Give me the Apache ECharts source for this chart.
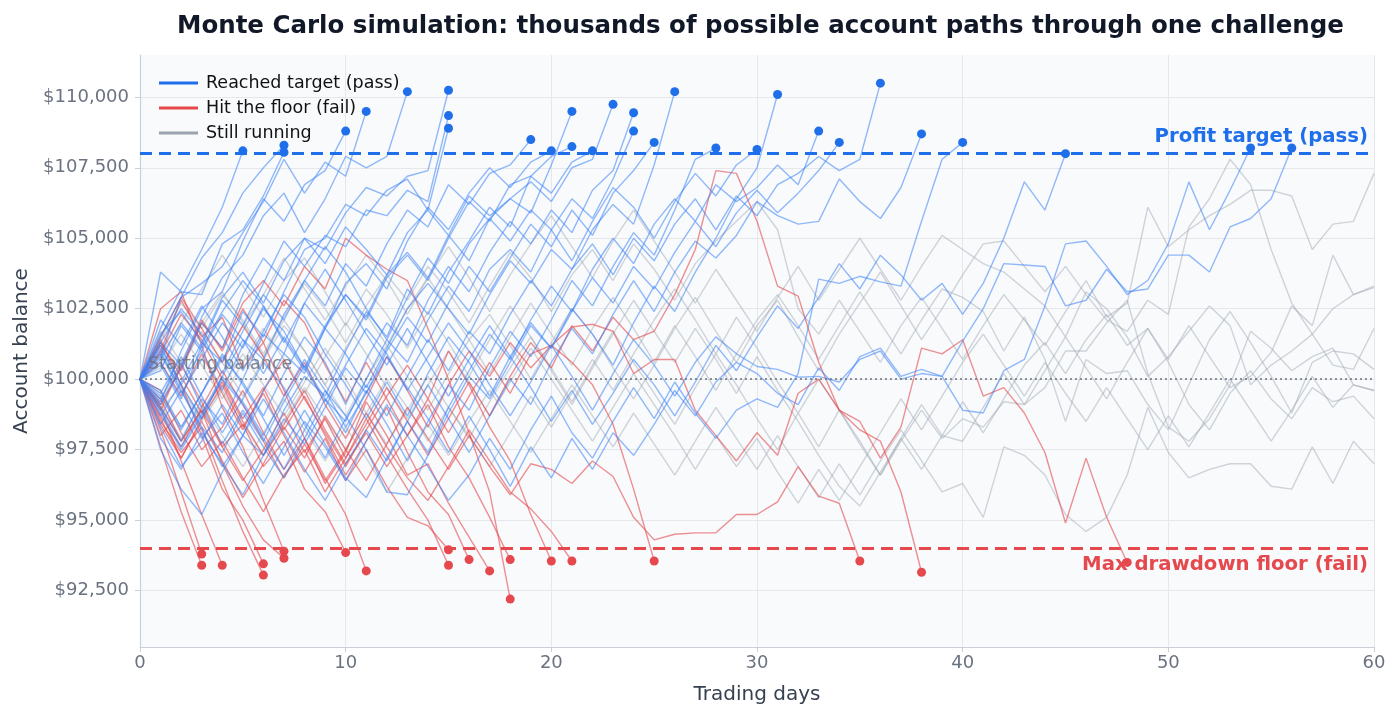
<!DOCTYPE html>
<html>
<head>
<meta charset="utf-8">
<script src="https://cdn.jsdelivr.net/npm/echarts@6/dist/echarts.min.js"></script>
<style>
  html, body { margin: 0; background: #fff; }
  #chart-div { width: 1400px; height: 720px; }
</style>
</head>
<body>
<div id="chart-div"></div>
<script>
// account balance in $ thousands, array index = trading day
const yTicks = [92.5, 95, 97.5, 100, 102.5, 105, 107.5, 110];
const targetLevel = 108;
const floorLevel = 94;
const startLevel = 100;

// paths that reached the profit target
const pass05 = [100, 101.8, 103.2, 104.6, 106.1, 108.1];
const pass07a = [100, 101.5, 102.9, 104.3, 105.2, 106.6, 107.5, 108.3];
const pass07b = [100, 103.8, 103.1, 103.0, 104.8, 105.3, 106.5, 108.05];
const pass10 = [100, 99.2, 101.0, 102.5, 103.1, 104.9, 106.4, 105.6, 106.9, 107.4, 108.8];
const pass11 = [100, 100.8, 102.9, 103.4, 104.0, 105.2, 106.3, 107.8, 106.6, 107.7, 107.2, 109.5];
const pass13 = [100, 101.3, 100.5, 102.2, 103.6, 104.4, 105.8, 106.6, 105.2, 106.4, 107.9, 107.5, 107.9, 110.2];
const pass15a = [100, 99.1, 100.4, 102.0, 101.1, 103.0, 104.3, 103.5, 105.0, 104.6, 105.9, 106.8, 106.5, 107.2, 107.4, 110.25];
const pass15b = [100, 100.6, 99.3, 101.2, 102.8, 101.9, 103.4, 104.9, 104.0, 105.1, 104.7, 106.0, 105.8, 106.7, 106.3, 109.35];
const pass15c = [100, 98.7, 99.9, 101.3, 100.6, 102.4, 101.5, 103.1, 104.6, 105.0, 106.2, 105.8, 106.7, 107.1, 106.0, 108.9];
const pass19 = [100, 101.2, 99.8, 98.6, 100.1, 101.4, 100.7, 102.3, 103.5, 102.6, 104.1, 103.3, 104.8, 106.0, 105.4, 106.9, 106.2, 107.3, 107.6, 108.5];
const pass20 = [100, 99.0, 97.8, 99.3, 98.4, 100.0, 101.6, 100.9, 102.7, 101.8, 103.4, 104.1, 103.2, 104.9, 106.1, 105.3, 106.6, 107.5, 106.8, 107.7, 108.1];
const pass21a = [100, 100.3, 101.9, 101.0, 99.6, 101.2, 102.5, 101.7, 100.4, 101.9, 103.0, 102.2, 103.7, 104.5, 103.6, 105.1, 104.2, 105.7, 106.4, 105.9, 107.6, 109.5];
const pass21b = [100, 97.5, 96.1, 95.2, 96.7, 98.0, 97.3, 98.9, 100.1, 99.4, 101.0, 102.4, 101.5, 103.2, 102.3, 103.8, 104.9, 106.1, 105.4, 107.2, 107.9, 108.25];
const pass22 = [100, 98.3, 96.9, 97.8, 99.1, 98.0, 99.6, 100.9, 100.2, 101.8, 103.0, 102.1, 103.6, 104.4, 103.5, 105.0, 106.3, 105.6, 106.9, 107.2, 106.6, 107.7, 108.1];
const pass23 = [100, 101.6, 102.4, 101.3, 102.9, 103.8, 102.7, 104.2, 105.0, 104.1, 105.4, 104.6, 103.7, 105.2, 106.0, 105.1, 106.5, 105.8, 106.4, 107.0, 106.3, 107.5, 107.8, 109.75];
const pass24a = [100, 99.4, 98.2, 99.5, 100.8, 99.9, 98.7, 100.2, 101.5, 100.6, 99.1, 100.7, 102.0, 101.2, 102.8, 104.0, 103.1, 104.5, 105.6, 104.8, 106.0, 105.2, 106.7, 107.4, 109.45];
const pass24b = [100, 101.0, 99.6, 98.3, 97.4, 98.8, 97.6, 96.5, 97.9, 99.3, 98.5, 100.0, 101.4, 100.6, 102.1, 103.3, 102.4, 103.9, 104.6, 103.8, 105.3, 106.4, 105.7, 107.1, 108.8];
const pass25 = [100, 97.9, 96.8, 98.1, 97.0, 95.9, 97.3, 98.6, 97.7, 99.0, 100.4, 99.5, 101.0, 102.2, 101.3, 102.7, 104.0, 103.1, 104.3, 105.5, 104.7, 106.0, 105.1, 106.6, 107.4, 108.4];
const pass26 = [100, 100.9, 99.5, 100.7, 102.0, 101.1, 102.6, 101.4, 100.3, 101.8, 100.9, 99.7, 101.1, 102.5, 103.4, 102.5, 101.6, 103.0, 104.2, 103.4, 104.6, 103.9, 105.3, 106.2, 105.5, 107.6, 110.2];
const pass28 = [100, 99.3, 100.6, 99.0, 97.7, 98.9, 97.8, 99.2, 100.5, 99.3, 98.1, 99.6, 98.4, 97.1, 98.5, 99.8, 98.9, 100.4, 101.7, 100.8, 102.1, 103.5, 102.6, 104.0, 105.2, 104.4, 106.0, 107.8, 108.2];
const pass30 = [100, 101.3, 102.5, 101.6, 100.2, 101.7, 103.0, 102.1, 103.5, 104.7, 103.8, 102.5, 101.4, 102.9, 104.3, 103.4, 104.8, 105.7, 104.9, 106.0, 105.3, 104.2, 105.6, 106.8, 106.1, 105.0, 106.3, 107.3, 106.5, 107.6, 108.15];
const pass31 = [100, 98.8, 97.5, 98.7, 100.0, 99.1, 97.9, 96.8, 98.2, 99.6, 98.7, 97.5, 96.0, 95.9, 97.3, 98.8, 100.1, 99.3, 100.6, 101.9, 101.1, 102.5, 101.6, 100.5, 102.0, 103.3, 102.4, 103.8, 105.0, 106.4, 107.5, 110.1];
const pass33 = [100, 100.5, 99.2, 97.9, 98.8, 97.4, 96.3, 97.6, 98.9, 97.7, 96.5, 95.8, 97.2, 98.5, 97.4, 99.0, 100.3, 101.6, 100.7, 102.1, 103.3, 102.4, 103.9, 105.0, 104.1, 105.5, 106.4, 105.6, 106.9, 106.3, 106.8, 107.6, 106.9, 108.8];
const pass34 = [100, 102.1, 101.2, 102.6, 101.5, 100.3, 101.7, 103.0, 102.2, 100.9, 99.8, 98.6, 99.9, 98.7, 100.2, 101.5, 100.6, 99.4, 100.8, 102.0, 101.1, 102.4, 103.6, 102.7, 104.0, 103.2, 104.5, 105.6, 104.7, 105.9, 106.7, 105.9, 106.6, 107.4, 108.4];
const pass36 = [100, 99.5, 100.8, 99.4, 98.1, 99.3, 100.6, 99.7, 98.4, 97.2, 98.6, 99.8, 98.7, 100.1, 101.4, 100.3, 101.7, 100.9, 102.3, 103.5, 102.6, 103.9, 104.8, 103.7, 105.0, 104.2, 105.5, 106.4, 105.3, 106.5, 105.8, 106.9, 107.3, 107.9, 107.4, 107.8, 110.5];
const pass38 = [100, 98.4, 99.6, 98.2, 96.9, 98.0, 99.3, 98.1, 96.8, 95.7, 97.0, 98.2, 97.1, 98.5, 99.8, 98.6, 97.4, 98.7, 100.0, 99.1, 100.6, 101.8, 100.9, 102.3, 103.5, 102.4, 103.8, 104.9, 104.3, 105.1, 106.3, 105.8, 105.5, 105.6, 107.1, 106.3, 105.7, 106.8, 108.7];
const pass40 = [100, 99.6, 98.3, 99.5, 100.9, 99.8, 98.6, 97.3, 98.5, 97.6, 96.4, 97.8, 99.1, 98.0, 96.9, 95.7, 96.6, 97.9, 96.8, 98.2, 99.4, 98.1, 97.2, 98.5, 99.7, 98.6, 99.9, 98.8, 97.9, 98.9, 99.3, 99.0, 100.2, 103.55, 103.4, 103.65, 103.45, 103.3, 105.6, 107.8, 108.4];
const pass45 = [100, 100.7, 102.0, 101.1, 102.4, 103.5, 102.6, 101.3, 102.7, 103.9, 102.8, 101.6, 100.5, 101.8, 100.6, 99.4, 100.7, 101.9, 100.8, 99.7, 98.5, 99.6, 98.4, 99.5, 100.7, 99.8, 98.7, 99.9, 101.2, 100.3, 101.5, 102.6, 101.8, 102.9, 104.1, 103.2, 104.4, 103.7, 102.8, 103.4, 102.3, 103.4, 105.0, 107.0, 106.0, 108.0];
const pass54 = [100, 98.9, 97.6, 98.8, 100.1, 99.2, 98.0, 99.4, 100.7, 99.6, 98.3, 99.5, 100.8, 99.7, 98.6, 97.4, 98.7, 97.5, 96.2, 97.6, 96.5, 97.9, 96.8, 98.1, 97.3, 98.4, 99.6, 98.7, 99.9, 100.6, 100.2, 99.5, 99.1, 100.4, 99.6, 100.8, 101.1, 100.1, 100.35, 100.1, 98.9, 98.8, 100.3, 100.7, 102.6, 104.8, 104.9, 104.0, 103.0, 103.5, 104.8, 107.0, 105.3, 106.7, 108.2];
const pass56 = [100, 101.1, 99.8, 101.0, 102.3, 101.4, 100.2, 101.5, 100.4, 99.2, 100.5, 101.8, 100.9, 99.6, 100.8, 102.0, 101.0, 99.8, 98.7, 99.9, 101.2, 100.1, 98.9, 100.2, 101.4, 100.5, 99.4, 100.6, 101.5, 100.9, 100.45, 100.35, 100.07, 100.1, 99.9, 100.7, 101.0, 100.0, 100.2, 100.1, 101.35, 102.5, 104.1, 104.05, 104.0, 102.6, 102.8, 103.9, 103.1, 103.2, 104.4, 104.4, 103.8, 105.4, 105.7, 106.4, 108.2];

// paths that hit the drawdown floor
const fail03a = [100, 98.2, 96.0, 93.8];
const fail03b = [100, 97.6, 95.3, 93.4];
const fail04 = [100, 99.0, 97.1, 95.2, 93.4];
const fail06a = [100, 101.4, 99.8, 98.0, 96.1, 95.0, 93.45];
const fail06b = [100, 98.5, 97.4, 98.3, 96.4, 94.6, 93.05];
const fail07a = [100, 102.5, 103.1, 101.2, 99.0, 97.6, 95.7, 93.9];
const fail07b = [100, 99.3, 97.8, 98.9, 97.0, 95.5, 94.3, 93.65];
const fail10 = [100, 98.9, 100.5, 99.2, 97.6, 98.4, 96.9, 97.8, 96.1, 95.3, 93.85];
const fail11 = [100, 101.0, 102.8, 101.5, 102.2, 100.4, 101.3, 99.6, 97.9, 96.5, 95.2, 93.2];
const fail15a = [100, 98.4, 97.2, 98.6, 99.8, 98.3, 99.5, 98.0, 96.7, 97.9, 96.4, 97.5, 96.2, 95.1, 94.8, 93.95];
const fail15b = [100, 99.6, 98.1, 96.9, 97.8, 96.5, 95.3, 96.6, 97.5, 96.0, 97.2, 98.6, 97.3, 96.1, 95.0, 93.4];
const fail16 = [100, 100.9, 102.3, 101.4, 100.0, 98.6, 99.7, 98.2, 99.4, 98.0, 96.6, 97.8, 99.0, 97.4, 96.0, 95.2, 93.6];
const fail17 = [100, 98.0, 98.9, 97.5, 98.3, 99.6, 98.1, 96.8, 97.9, 96.3, 97.4, 99.2, 98.0, 96.6, 97.0, 95.6, 94.4, 93.2];
const fail18a = [100, 99.1, 100.4, 102.1, 101.0, 102.5, 101.3, 102.8, 102.0, 100.5, 99.2, 100.6, 99.3, 98.0, 99.1, 97.6, 96.5, 95.1, 93.6];
const fail18b = [100, 101.2, 100.3, 102.0, 101.1, 102.7, 103.5, 102.6, 104.0, 103.2, 105.0, 104.4, 103.9, 103.5, 101.8, 100.0, 98.1, 96.0, 92.2];
const fail20 = [100, 100.6, 99.4, 100.9, 99.5, 98.2, 99.6, 100.7, 99.3, 98.1, 96.9, 98.2, 99.4, 100.5, 99.3, 101.0, 99.8, 98.3, 97.1, 95.2, 93.55];
const fail21 = [100, 98.7, 97.6, 99.0, 100.3, 99.1, 97.8, 96.5, 97.7, 96.4, 97.5, 98.8, 97.6, 96.5, 95.7, 96.9, 98.2, 97.1, 96.0, 95.4, 94.6, 93.55];
const fail25 = [100, 101.5, 102.9, 101.8, 100.6, 101.9, 100.8, 99.4, 100.6, 99.1, 97.9, 99.3, 100.8, 99.6, 98.3, 99.8, 101.0, 100.1, 101.3, 100.4, 101.2, 100.6, 99.8, 98.4, 96.1, 93.55];
const fail35 = [100, 98.6, 97.2, 98.5, 97.1, 95.8, 97.0, 98.3, 97.2, 98.7, 97.5, 96.4, 97.7, 99.0, 97.9, 96.8, 98.0, 96.9, 95.9, 97.0, 96.8, 96.3, 97.1, 96.55, 95.1, 94.3, 94.5, 94.55, 94.55, 95.2, 95.2, 95.65, 96.9, 95.85, 95.6, 93.55];
const fail38 = [100, 101.3, 100.1, 98.8, 99.9, 98.5, 97.3, 98.4, 99.6, 98.2, 97.0, 98.1, 96.9, 98.0, 99.3, 98.1, 99.4, 100.6, 99.5, 100.9, 101.2, 101.85, 101.95, 101.7, 100.2, 100.7, 100.7, 98.9, 98.0, 97.1, 98.1, 97.3, 99.5, 100.0, 98.9, 98.2, 97.8, 96.0, 93.15];
const fail48 = [100, 99.0, 97.8, 98.9, 97.6, 96.4, 97.5, 98.8, 97.4, 98.6, 97.2, 98.4, 99.7, 98.5, 97.3, 98.6, 99.9, 98.7, 100.1, 101.3, 100.4, 101.9, 101.0, 102.2, 101.4, 101.7, 103.0, 104.6, 107.4, 107.3, 105.6, 103.3, 102.95, 100.6, 98.9, 98.5, 97.2, 98.3, 101.1, 100.9, 101.4, 99.4, 99.7, 98.8, 97.4, 94.9, 97.2, 95.1, 93.5];

// paths still running at day 60
const run1 = [100, 101.4, 102.7, 101.8, 103.0, 102.1, 100.9, 102.2, 103.4, 102.5, 101.3, 102.6, 103.7, 102.8, 104.0, 103.1, 102.0, 103.3, 104.5, 103.6, 102.4, 103.7, 104.6, 103.5, 104.8, 103.9, 102.8, 104.1, 104.9, 105.6, 106.3, 105.3, 102.5, 101.6, 102.8, 101.7, 100.6, 101.9, 102.9, 101.8, 100.7, 101.9, 103.0, 102.1, 101.2, 102.4, 103.5, 102.2, 102.7, 106.1, 104.7, 105.3, 105.8, 106.2, 106.7, 106.7, 106.5, 104.6, 105.5, 105.6, 107.3];
const run2 = [100, 99.2, 100.5, 101.7, 100.6, 99.4, 100.7, 101.9, 101.0, 99.8, 98.7, 100.0, 101.2, 100.1, 98.9, 100.2, 101.4, 102.3, 101.2, 100.0, 101.3, 102.5, 101.6, 100.4, 99.3, 100.5, 101.8, 102.9, 101.7, 100.6, 101.9, 102.8, 101.5, 100.3, 101.6, 102.7, 103.8, 102.6, 101.4, 102.5, 103.7, 104.8, 104.9, 104.0, 103.1, 104.0, 103.0, 102.1, 101.7, 102.8, 102.3, 105.4, 106.4, 107.8, 106.9, 104.6, 102.7, 101.6, 100.5, 100.35, 101.8];
const run3 = [100, 100.8, 102.0, 103.2, 104.4, 103.3, 102.2, 103.5, 104.3, 103.1, 101.9, 103.2, 102.3, 101.1, 102.4, 101.3, 100.1, 101.4, 102.6, 101.5, 100.4, 99.2, 100.5, 101.7, 100.6, 99.5, 98.4, 99.7, 100.9, 99.8, 98.6, 97.5, 98.8, 97.6, 98.9, 97.8, 96.6, 97.9, 99.1, 98.0, 97.8, 99.0, 100.2, 99.1, 100.3, 101.5, 100.4, 99.3, 100.6, 101.8, 100.7, 101.9, 100.8, 99.7, 100.1, 100.95, 102.6, 101.9, 104.4, 103.0, 103.25];
const run4 = [100, 98.9, 99.8, 98.6, 99.7, 100.9, 99.8, 98.7, 99.9, 101.1, 100.0, 98.8, 97.7, 98.9, 100.1, 99.0, 97.9, 99.2, 100.4, 101.5, 100.3, 99.1, 100.4, 101.6, 102.8, 101.7, 100.6, 101.8, 100.7, 99.5, 100.8, 99.6, 98.5, 97.3, 96.2, 95.5, 96.7, 97.9, 96.8, 98.0, 99.2, 98.1, 99.3, 100.5, 101.3, 100.2, 101.4, 102.3, 101.2, 101.8, 100.6, 99.1, 98.2, 99.5, 100.3, 99.3, 98.6, 99.7, 99.2, 99.4, 98.6];
const run5 = [100, 100.9, 99.7, 98.5, 99.6, 98.4, 97.3, 98.5, 99.7, 98.6, 97.5, 98.8, 100.0, 99.0, 97.8, 99.0, 98.0, 96.9, 98.1, 99.4, 98.3, 99.5, 100.7, 99.6, 100.9, 102.1, 103.2, 102.1, 100.9, 102.2, 101.1, 99.9, 98.8, 100.0, 98.9, 97.7, 96.6, 97.8, 98.9, 97.9, 98.6, 98.3, 99.2, 99.1, 99.7, 101.0, 101.0, 102.0, 102.8, 100.2, 98.3, 97.8, 98.6, 99.8, 101.7, 101.1, 100.3, 100.8, 101.1, 99.8, 99.6];
const run6 = [100, 101.7, 100.6, 102.0, 103.1, 102.0, 100.8, 102.1, 101.0, 99.8, 101.1, 102.3, 101.2, 102.5, 103.6, 102.5, 101.4, 100.2, 101.5, 102.7, 101.6, 100.5, 101.8, 102.9, 101.8, 100.6, 101.9, 100.8, 99.6, 100.9, 102.1, 103.0, 101.9, 100.7, 101.9, 103.1, 102.0, 100.9, 102.1, 103.2, 102.9, 102.4, 101.0, 102.2, 100.7, 98.5, 100.7, 100.2, 100.3, 99.1, 98.2, 99.8, 101.4, 102.4, 101.3, 100.1, 98.8, 100.6, 101.0, 100.9, 100.35];
const run7 = [100, 99.5, 98.3, 99.5, 100.7, 101.9, 103.0, 104.3, 103.2, 102.1, 103.3, 104.4, 103.5, 102.3, 103.6, 104.7, 103.6, 102.4, 103.7, 104.8, 105.8, 104.7, 103.6, 104.9, 106.0, 104.9, 103.8, 102.7, 103.9, 102.8, 101.7, 102.9, 104.0, 102.8, 103.9, 105.0, 103.9, 102.8, 104.0, 105.1, 104.6, 104.1, 103.8, 103.2, 102.6, 101.5, 103.1, 102.5, 101.5, 100.1, 100.8, 101.7, 102.6, 101.9, 99.8, 100.5, 101.0, 101.6, 102.5, 103.0, 103.3];
const run8 = [100, 99.1, 97.9, 99.1, 98.0, 96.9, 98.1, 99.3, 98.2, 97.1, 98.3, 97.2, 96.0, 97.2, 98.4, 97.3, 98.5, 99.6, 98.5, 97.4, 98.6, 99.8, 98.7, 97.6, 98.8, 97.7, 96.6, 97.8, 99.0, 97.9, 96.8, 98.0, 96.9, 95.8, 97.0, 95.9, 97.1, 98.2, 97.1, 96.0, 96.3, 95.1, 97.6, 97.3, 96.6, 95.2, 94.6, 95.1, 96.6, 99.0, 97.4, 96.5, 96.8, 97.0, 97.0, 96.2, 96.1, 97.6, 96.3, 97.8, 97.0];
const run9 = [100, 100.4, 101.6, 100.5, 99.3, 100.6, 101.8, 100.7, 99.5, 100.8, 102.0, 100.9, 99.7, 98.6, 99.8, 101.0, 99.9, 98.7, 99.9, 101.1, 100.0, 98.9, 97.8, 99.0, 100.2, 99.1, 98.0, 96.8, 98.0, 96.9, 97.9, 96.7, 95.6, 96.8, 95.7, 96.9, 98.1, 99.3, 98.2, 99.4, 100.6, 101.6, 100.5, 99.4, 100.6, 99.5, 98.5, 99.7, 98.6, 97.5, 98.7, 97.6, 98.8, 100.0, 98.9, 97.8, 98.9, 100.1, 99.0, 99.8, 99.6];

const passPaths = [pass05, pass07a, pass07b, pass10, pass11, pass13, pass15a, pass15b, pass15c, pass19,
  pass20, pass21a, pass21b, pass22, pass23, pass24a, pass24b, pass25, pass26, pass28, pass30, pass31,
  pass33, pass34, pass36, pass38, pass40, pass45, pass54, pass56];
const failPaths = [fail03a, fail03b, fail04, fail06a, fail06b, fail07a, fail07b, fail10, fail11, fail15a,
  fail15b, fail16, fail17, fail18a, fail18b, fail20, fail21, fail25, fail35, fail38, fail48];
const runPaths = [run1, run2, run3, run4, run5, run6, run7, run8, run9];

const passColor = '#1f6feb';
const failColor = '#e5484d';
const runColor = '#9ca3af';
const font = 'DejaVu Sans';

var myChart = echarts.init(document.getElementById('chart-div'));

const toPoints = p => p.map((v, day) => [day, v]);
const lastPoint = p => [p.length - 1, p[p.length - 1]];
const pathSeries = (paths, key, color, opacity, z) =>
  paths.map((p, i) => ({
    type: 'line',
    name: key + i,
    data: toPoints(p),
    symbol: 'none',
    silent: true,
    z,
    lineStyle: { color, width: 1.4, opacity },
  }));

const legendSeries = [
  ['Reached target (pass)', passColor],
  ['Hit the floor (fail)', failColor],
  ['Still running', runColor],
].map(([name, color]) => ({
  type: 'line',
  name,
  data: [],
  symbol: 'none',
  itemStyle: { color },
  lineStyle: { color, width: 3 },
}));

let series = []
  .concat(pathSeries(runPaths, 'run', runColor, 0.45, 1))
  .concat(pathSeries(failPaths, 'fail', failColor, 0.6, 2))
  .concat(pathSeries(passPaths, 'pass', '#3b82f6', 0.55, 3))
  .concat(legendSeries);

series.push({
  type: 'scatter',
  name: 'passEnd',
  data: passPaths.map(lastPoint),
  symbolSize: 9,
  itemStyle: { color: passColor, opacity: 1 },
  z: 5,
  silent: true,
  markLine: {
    silent: true,
    symbol: 'none',
    data: [
      {
        yAxis: targetLevel,
        lineStyle: { color: passColor, width: 3, type: [12, 7] },
        label: {
          position: 'insideEndTop',
          formatter: 'Profit target (pass)',
          color: passColor,
          fontFamily: font,
          fontWeight: 'bold',
          fontSize: 19.7,
          distance: [6, 7],
        },
      },
      {
        yAxis: floorLevel,
        lineStyle: { color: failColor, width: 3, type: [12, 7] },
        label: {
          position: 'insideEndBottom',
          formatter: 'Max drawdown floor (fail)',
          color: failColor,
          fontFamily: font,
          fontWeight: 'bold',
          fontSize: 19.7,
          distance: [6, 7],
        },
      },
      {
        yAxis: startLevel,
        lineStyle: { color: '#6b7280', width: 1.5, type: [2, 3] },
        label: {
          position: 'insideStartTop',
          formatter: 'Starting balance',
          color: 'rgba(107,114,128,0.85)',
          fontFamily: font,
          fontSize: 17.5,
          distance: [8, 6],
        },
      },
    ],
  },
});
series.push({
  type: 'scatter',
  name: 'failEnd',
  data: failPaths.map(lastPoint),
  symbolSize: 9,
  itemStyle: { color: failColor, opacity: 1 },
  z: 5,
  silent: true,
});

myChart.setOption({
  backgroundColor: '#fff',
  animation: false,
  title: {
    text: 'Monte Carlo simulation: thousands of possible account paths through one challenge',
    left: 172,
    top: 9,
    textStyle: { fontFamily: font, fontSize: 24.5, fontWeight: 'bold', color: '#111827' },
  },
  legend: {
    data: ['Reached target (pass)', 'Hit the floor (fail)', 'Still running'],
    orient: 'vertical',
    left: 154,
    top: 68,
    icon: 'rect',
    itemWidth: 39,
    itemHeight: 3,
    itemGap: 5,
    selectedMode: false,
    textStyle: { fontFamily: font, fontSize: 17.5, color: '#111', lineHeight: 20, padding: [0, 0, 0, 3] },
  },
  grid: {
    left: 140,
    right: 26,
    top: 55,
    bottom: 73,
    show: true,
    backgroundColor: '#f8fafc',
    borderWidth: 0,
  },
  xAxis: {
    type: 'value',
    min: 0,
    max: 60,
    interval: 10,
    name: 'Trading days',
    nameLocation: 'middle',
    nameGap: 38,
    nameTextStyle: { fontFamily: font, fontSize: 20, color: '#374151' },
    axisLine: { show: true, lineStyle: { color: '#cbd0d8', width: 1.2 } },
    axisTick: { show: true, length: 5, lineStyle: { color: '#cbd0d8' } },
    axisLabel: { fontFamily: font, fontSize: 18, color: '#6b7280', margin: 7 },
    splitLine: { show: true, lineStyle: { color: '#e5e7eb', width: 1 } },
  },
  yAxis: {
    type: 'value',
    min: 90.5,
    max: 111.5,
    name: 'Account balance',
    nameLocation: 'middle',
    nameGap: 108,
    nameTextStyle: { fontFamily: font, fontSize: 20, color: '#374151' },
    axisLine: { show: true, lineStyle: { color: '#cbd0d8', width: 1.2 } },
    axisTick: { show: true, length: 5, customValues: yTicks, lineStyle: { color: '#cbd0d8' } },
    axisLabel: {
      customValues: yTicks,
      fontFamily: font,
      fontSize: 18,
      color: '#6b7280',
      margin: 11,
      formatter: v => '$' + Math.round(v * 1000).toLocaleString('en-US'),
    },
    splitLine: { show: true, lineStyle: { color: '#e5e7eb', width: 1 } },
  },
  series,
});
</script>
</body>
</html>
